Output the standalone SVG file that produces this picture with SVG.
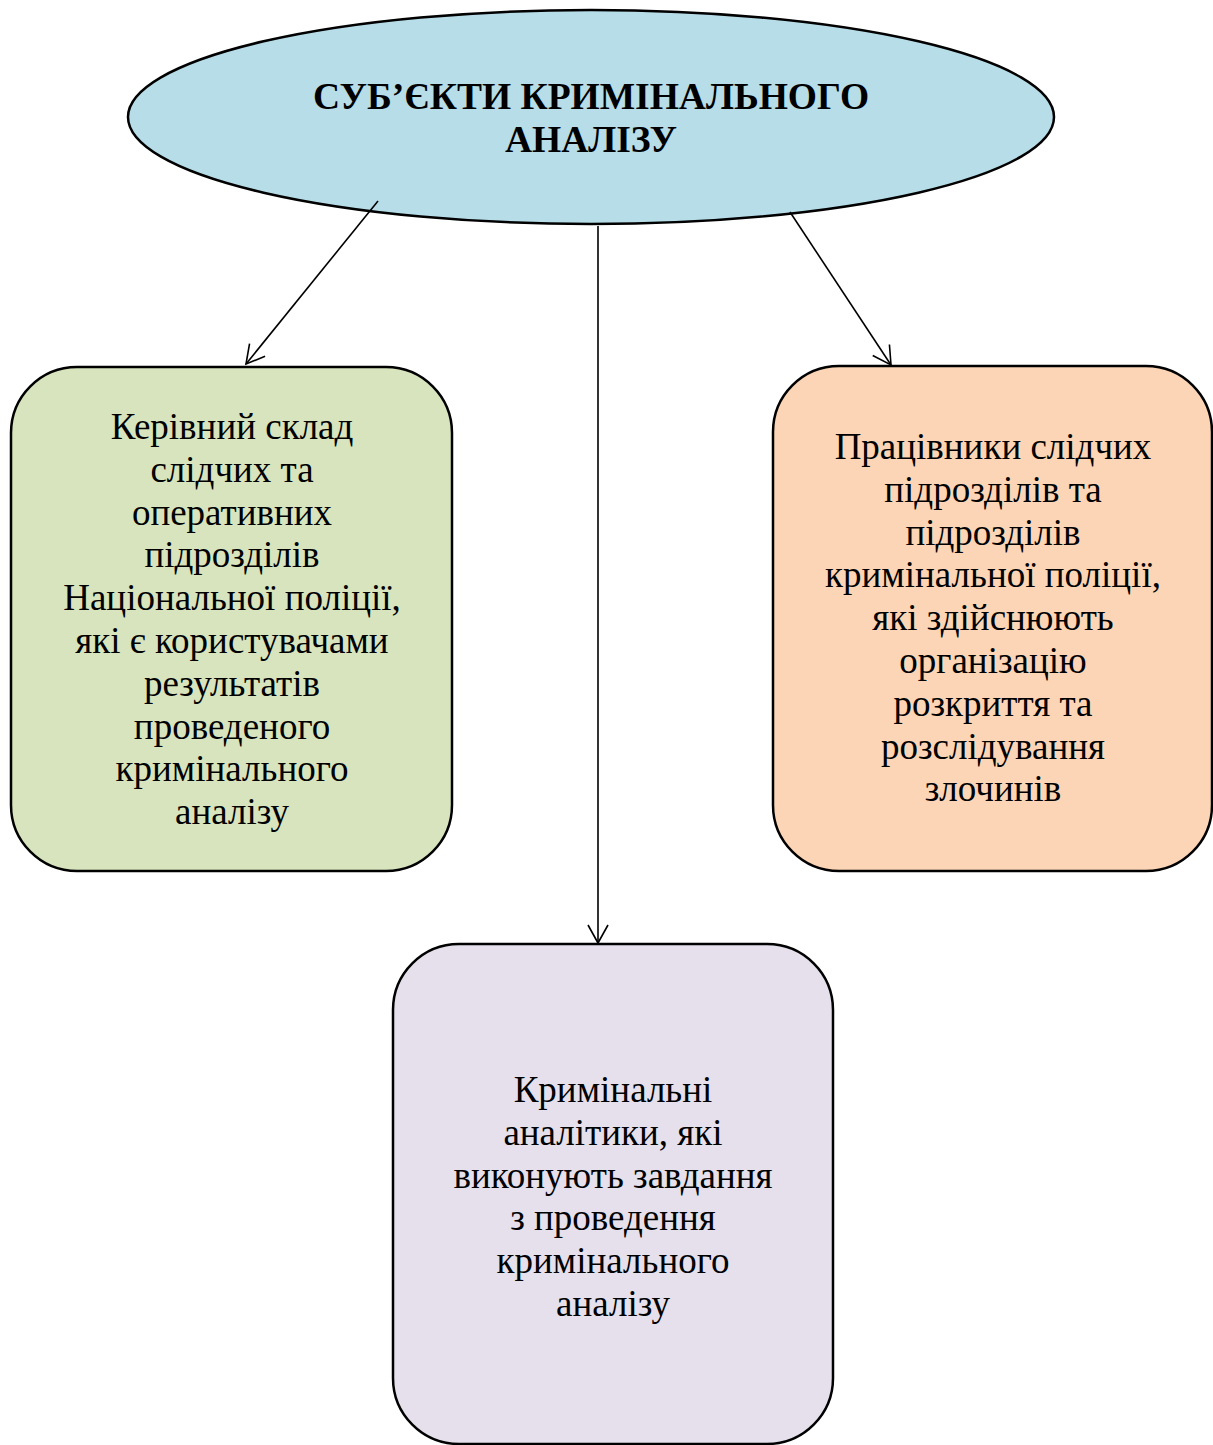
<svg xmlns="http://www.w3.org/2000/svg" width="1213" height="1445" viewBox="0 0 1213 1445">
<style>
.node{stroke:#000;stroke-width:2.5}
.t{font-family:"Liberation Serif","Times New Roman",serif;font-size:37px;fill:#000;text-anchor:middle}
.title{font-family:"Liberation Serif","Times New Roman",serif;font-size:37.5px;font-weight:bold;fill:#000;text-anchor:middle}
.conn{stroke:#000;stroke-width:1.6;fill:none}
</style>
<defs>
<marker id="arr" markerWidth="24" markerHeight="24" refX="20" refY="12" orient="auto" markerUnits="userSpaceOnUse">
<path d="M2,2 L20,12 L2,22" fill="none" stroke="#000" stroke-width="1.6"/>
</marker>
</defs>
<g id="root">
<ellipse class="node" cx="591" cy="117" rx="463" ry="107" fill="#B7DDE8"/>
<text class="title" x="591" y="109">СУБ’ЄКТИ КРИМІНАЛЬНОГО</text>
<text class="title" x="591" y="152">АНАЛІЗУ</text>
</g>
<g id="connectors">
<line class="conn" x1="378" y1="201" x2="246" y2="364" marker-end="url(#arr)"/>
<line class="conn" x1="598" y1="226" x2="598" y2="943" marker-end="url(#arr)"/>
<line class="conn" x1="790" y1="212" x2="891" y2="365" marker-end="url(#arr)"/>
</g>
<g id="left">
<rect class="node" x="11" y="367" width="441" height="504" rx="66" fill="#D7E4BD"/>
<text class="t" x="232" y="439">Керівний склад</text>
<text class="t" x="232" y="482">слідчих та</text>
<text class="t" x="232" y="525">оперативних</text>
<text class="t" x="232" y="567">підрозділів</text>
<text class="t" x="232" y="610">Національної поліції,</text>
<text class="t" x="232" y="653">які є користувачами</text>
<text class="t" x="232" y="696">результатів</text>
<text class="t" x="232" y="739">проведеного</text>
<text class="t" x="232" y="781">кримінального</text>
<text class="t" x="232" y="824">аналізу</text>
</g>
<g id="right">
<rect class="node" x="773" y="366" width="439" height="505" rx="66" fill="#FBD5B5"/>
<text class="t" x="993" y="459">Працівники слідчих</text>
<text class="t" x="993" y="502">підрозділів та</text>
<text class="t" x="993" y="545">підрозділів</text>
<text class="t" x="993" y="587">кримінальної поліції,</text>
<text class="t" x="993" y="630">які здійснюють</text>
<text class="t" x="993" y="673">організацію</text>
<text class="t" x="993" y="716">розкриття та</text>
<text class="t" x="993" y="759">розслідування</text>
<text class="t" x="993" y="801">злочинів</text>
</g>
<g id="bottom">
<rect class="node" x="393" y="944" width="440" height="500" rx="66" fill="#E5E0EC"/>
<text class="t" x="613" y="1102">Кримінальні</text>
<text class="t" x="613" y="1145">аналітики, які</text>
<text class="t" x="613" y="1188">виконують завдання</text>
<text class="t" x="613" y="1230">з проведення</text>
<text class="t" x="613" y="1273">кримінального</text>
<text class="t" x="613" y="1316">аналізу</text>
</g>
</svg>
